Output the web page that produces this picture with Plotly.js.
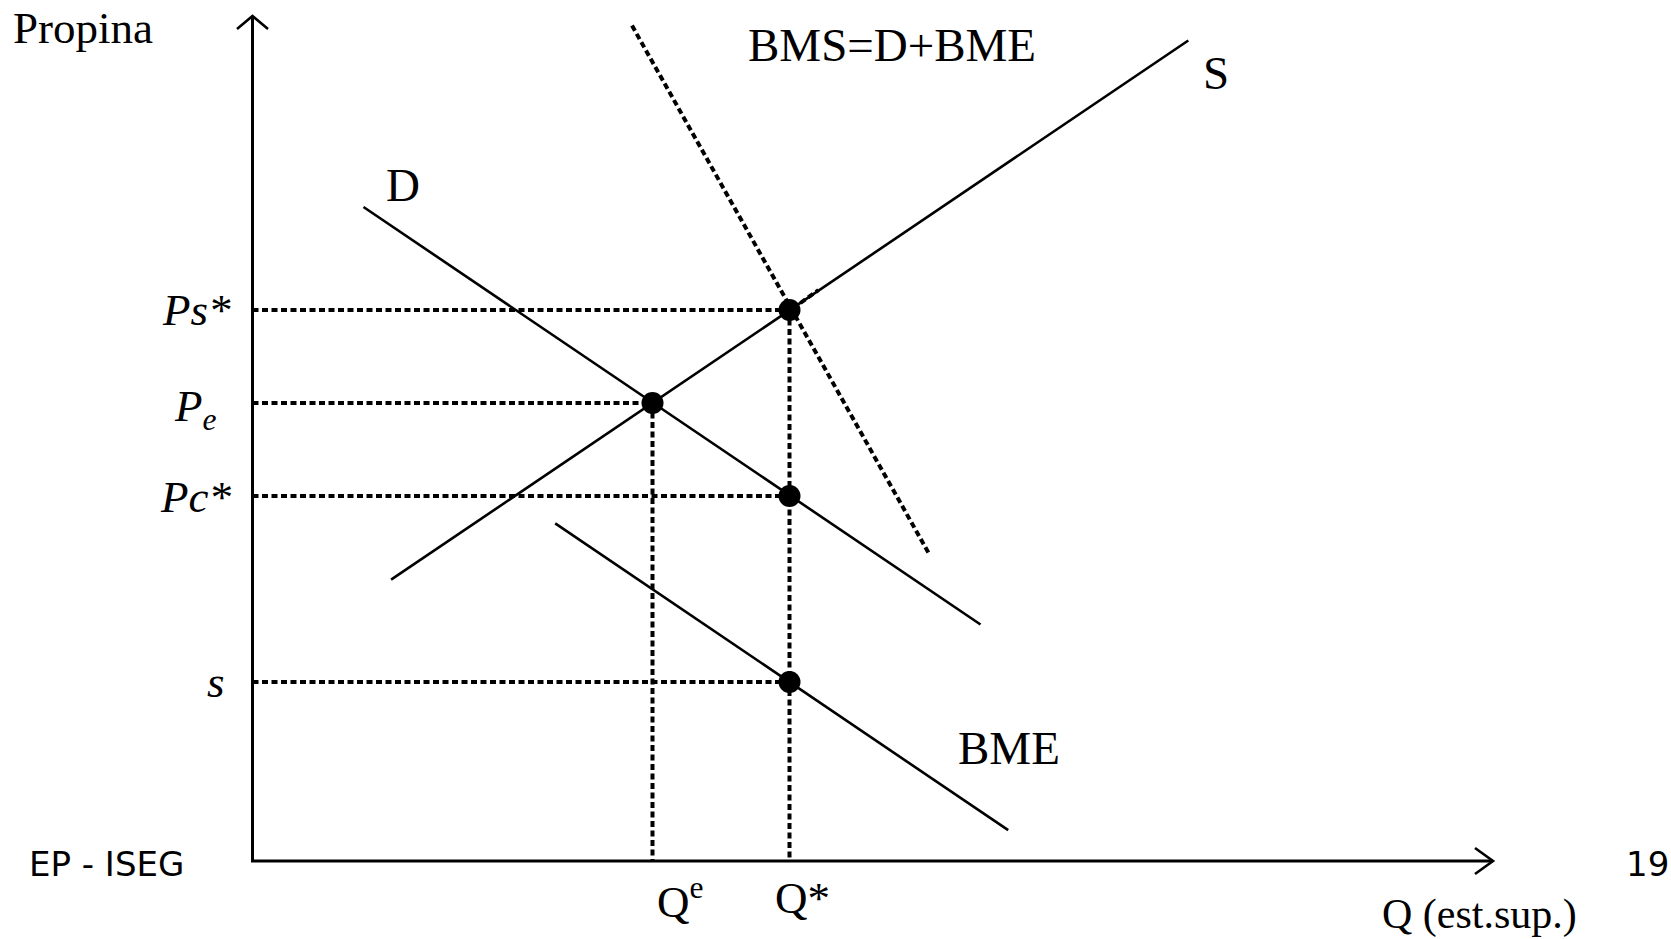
<!DOCTYPE html>
<html>
<head>
<meta charset="utf-8">
<script src="https://cdn.plot.ly/plotly-3.0.1.min.js"></script>
<style>html,body{margin:0;padding:0;background:#fff;}#chart{width:1671px;height:939px;}</style>
</head>
<body>
<div id="chart"></div>
<script>
// ---- data (units: origin at the axes' corner) ----
const priceLabels = ['<i>Ps*</i>', '<i>P<sub>e</sub></i>', '<i>Pc*</i>', '<i>s</i>'];
const priceLevels = [55.1, 45.8, 36.5, 17.9];
const priceQty    = [53.7, 40.0, 53.7, 53.7];   // quantity where each price dot sits
const qtyLabels   = ['Q<sup>e</sup>', 'Q*'];
const qtyLevels   = [40.0, 53.7];
const qtyPrice    = [45.8, 55.1];               // top of each vertical guide

const supplyX = [13.86, 93.58];  const supplyY = [28.13, 82.05];
const demandX = [11.1, 72.8];    const demandY = [65.4, 23.65];
const bmeX    = [30.27, 75.57];  const bmeY    = [33.77, 3.08];
const bmsX    = [37.95, 67.68];  const bmsY    = [83.54, 30.68];
const stubX   = [54.8, 56.6];    const stubY   = [55.8, 57.1];

const axisX = [0, 0, 124.05];    const axisY = [84.5, 0, 0];
const yArrowX = [-1.55, 0, 1.55]; const yArrowY = [83.2, 84.5, 83.2];
const xArrowX = [122.25, 124.05, 122.25]; const xArrowY = [1.3, 0, -1.3];

const curveNames = ['D', 'S', 'BMS=D+BME', 'BME'];
const curveLabelX = [15.03, 96.35, 63.95, 75.67];
const curveLabelY = [67.56, 78.85, 81.6, 11.29];

// ---- traces ----
const black = '#000';
const solid = {color: black, width: 2.6};
const dotted = {color: black, width: 4, dash: '6px,3.5px'};
const traces = [];
function line(x, y, l) { traces.push({x: x, y: y, mode: 'lines', line: l, hoverinfo: 'skip'}); }

// guides
priceLevels.forEach((p, i) => line([0, priceQty[i]], [p, p], dotted));
qtyLevels.forEach((q, i) => line([q, q], [qtyPrice[i], 0], dotted));
// curves
line(supplyX, supplyY, solid);
line(demandX, demandY, solid);
line(bmeX, bmeY, solid);
line(bmsX, bmsY, dotted);
line(stubX, stubY, dotted);
// axes
line(axisX, axisY, {color: black, width: 3});
line(yArrowX, yArrowY, {color: black, width: 2.6});
line(xArrowX, xArrowY, {color: black, width: 2.6});
// dots
traces.push({x: priceQty, y: priceLevels, mode: 'markers', marker: {color: black, size: 22}, hoverinfo: 'skip'});

// ---- annotations ----
const serif = 'Liberation Serif, Times New Roman, serif';
const sans = 'DejaVu Sans, Verdana, sans-serif';
const ann = [];
function text(t, x, y, size, xa, fam) {
  ann.push({text: t, x: x, y: y, xref: 'x', yref: 'y', showarrow: false, xanchor: xa || 'center', yanchor: 'middle',
            borderpad: 0, font: {family: fam || serif, size: size, color: black}});
}
const priceLabelX = [-2.05, -3.45, -2.05, -2.65];
const priceLabelY = [55.1, 45.2, 36.4, 17.9];
priceLabels.forEach((t, i) => text(t, priceLabelX[i], priceLabelY[i], 45, 'right'));
const qtyLabelX = [42.75, 54.95];
qtyLabels.forEach((t, i) => text(t, qtyLabelX[i], -3.7, 45, 'center'));
curveNames.forEach((t, i) => text(t, curveLabelX[i], curveLabelY[i], 47, 'center'));
text('Propina', -24.05, 83.3, 45, 'left');
text('Q (est.sup.)', 112.85, -5.3, 42, 'left');
text('EP - ISEG', -22.5, -0.3, 34, 'left', sans);
text('19', 137.25, -0.3, 34, 'left', sans);

const layout = {
  width: 1671, height: 939, autosize: false,
  margin: {l: 0, r: 0, t: 0, b: 0, pad: 0},
  paper_bgcolor: '#fff', plot_bgcolor: '#fff',
  showlegend: false,
  xaxis: {range: [-25.25, 141.85], visible: false, fixedrange: true},
  yaxis: {range: [-7.8, 86.1], visible: false, fixedrange: true},
  annotations: ann
};
Plotly.newPlot('chart', traces, layout, {staticPlot: true, displayModeBar: false});
</script>
</body>
</html>
